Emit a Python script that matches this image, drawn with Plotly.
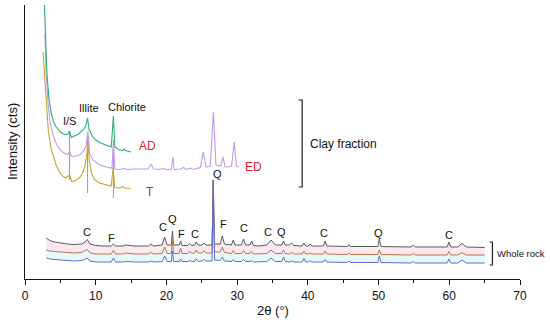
import plotly.graph_objects as go

# ---------------- Whole rock patterns (shared 2theta grid) ----------------
wr_two_theta = [3.0, 3.5, 4.2, 5.0, 6.0, 7.0, 8.0, 8.5, 8.8, 9.2, 10.0, 11.0, 12.2, 12.5, 12.8,
                13.8, 14.2, 15.5, 17.5, 17.8, 18.2, 19.4, 19.75, 20.1, 20.7, 20.85, 21.0, 21.8,
                22.0, 22.2, 23.0, 23.3, 23.6, 24.0, 24.2, 24.5, 25.0, 25.3, 25.6, 26.45, 26.62,
                26.8, 27.6, 27.9, 28.2, 29.2, 29.45, 29.7, 30.6, 30.9, 31.2, 31.8, 32.05, 32.3,
                33.0, 34.2, 34.8, 35.4, 36.3, 36.55, 36.8, 37.4, 37.7, 38.0, 39.2, 39.45, 39.7,
                40.1, 40.3, 40.6, 42.2, 42.45, 42.7, 45.6, 45.8, 46.0, 49.9, 50.1, 50.35, 54.6,
                54.9, 55.2, 59.7, 59.95, 60.2, 61.2, 61.8, 62.4, 65.0]

wr_top = [41, 38.5, 37, 36, 35, 34.5, 35, 37, 39.5, 35, 33.5, 33, 33, 35, 33,
          33, 34, 33, 33, 35, 33, 34, 42, 34, 34, 48, 34, 34,
          38, 33.5, 33.5, 35.5, 33.5, 34, 37, 34, 34, 36, 34, 34, 99,
          35, 35, 43, 35, 34, 39, 34, 34, 40, 34, 34, 38, 33.5,
          33, 34, 39, 34, 34, 38, 34, 34, 36, 33.5, 33, 36, 33,
          33, 35, 33, 33, 38, 33, 32.5, 34.5, 32.5, 32.5, 40, 32.5, 32,
          34, 32, 32, 37, 32, 32, 35.5, 32, 31.5]

wr_mid = [29, 28, 27.5, 27, 26.5, 26, 26.5, 28, 29.5, 26, 25, 25, 25, 28.5, 25,
          25, 26, 25, 25, 26.5, 25, 25.5, 32, 25.5, 25.5, 42, 25.5, 25.5,
          31, 25.5, 25.5, 27.5, 25.5, 26, 29, 26, 26, 28, 26, 26, 95,
          27, 27, 32, 26.5, 25.5, 28.5, 25.5, 25.5, 28.5, 25.5, 25.5, 27.5, 25,
          25, 25.5, 29, 25.5, 25.5, 29, 25.5, 25, 26.5, 25, 25, 28, 25,
          25, 26, 25, 25, 28, 25, 24.5, 26, 24.5, 24.5, 29, 24.5, 24,
          25.5, 24, 24, 27.5, 24, 24, 26.5, 24, 24]

wr_bot = [21, 20, 19.5, 19, 18.5, 18, 18.5, 19.5, 21, 18, 17, 17, 17, 21, 17,
          17, 17.5, 17, 17, 18, 17, 17.5, 23, 17.5, 17.5, 28, 17.5, 17.5,
          20, 17.5, 17.5, 18.5, 17.5, 17.5, 20, 17.5, 18, 19.5, 18, 18, 99,
          19, 18.5, 22, 18, 17.5, 19.5, 17.5, 17.5, 19.5, 17.5, 17.5, 18.5, 17,
          17, 17.5, 21, 17.5, 17.5, 22, 17.5, 17, 18, 17, 17, 20.5, 17,
          17, 18.5, 17, 17, 19.5, 17, 16.5, 18, 16.5, 16.5, 23, 16.5, 16,
          17.5, 16, 16, 20, 16, 16, 19, 16, 16]

# ---------------- Clay fraction patterns ----------------
ad_two_theta = [2.75, 2.9, 3.1, 3.4, 3.7, 4.0, 4.4, 5.0, 5.6, 6.0, 6.3, 6.55, 7.0, 7.6, 8.2,
                8.6, 8.85, 9.05, 9.5, 10.0, 10.7, 11.4, 12.2, 12.5, 12.7, 13.2, 13.8, 14.0,
                14.2, 15.0]
ad_int = [274, 240, 205, 180, 166, 158, 152, 147, 144.5, 144.5, 148, 141.5, 143, 145, 149,
          153, 161, 150, 143, 139, 136, 134, 132, 163, 132, 129.5, 128.5, 130,
          128.5, 127]

ed_two_theta = [2.8, 3.0, 3.3, 3.6, 4.0, 4.5, 5.0, 5.5, 6.0, 6.3, 6.6, 7.2, 7.8, 8.3, 8.65,
                8.9, 9.15, 9.6, 10.5, 11.5, 12.3, 12.5, 12.7, 13.4, 14.0, 14.4, 15.5, 16.5,
                17.4, 17.8, 18.2, 19.0, 19.5, 20.0, 20.7, 20.9, 21.1, 22.0, 22.4, 22.8, 23.4,
                23.8, 24.3, 24.8, 25.2, 25.6, 26.2, 26.65, 27.0, 27.7, 28.0, 28.3, 29.2, 29.6,
                29.9, 30.2]
ed_int = [245, 205, 172, 155, 143, 134, 129, 126, 124.5, 127.5, 122.5, 123, 124.5, 128, 134,
          148, 125, 119, 114.5, 112, 111, 139, 110, 109.5, 110.5, 109.5, 110, 110,
          110, 115, 110, 109.5, 110.5, 109.5, 110, 122, 109.5, 110, 111.5, 109.5, 111,
          109.5, 110.5, 111.5, 127, 112, 113, 167, 114, 113, 122, 112, 112.5, 137,
          113, 112]

t_two_theta = [2.55, 2.8, 3.0, 3.3, 3.7, 4.0, 4.4, 4.8, 5.3, 5.8, 6.3, 6.6, 7.2, 7.8, 8.2,
               8.5, 8.75, 8.9, 9.1, 9.4, 9.8, 10.5, 11.4, 12.2, 12.45, 12.7, 13.4, 13.8,
               14.2, 14.9]
t_int = [227, 200, 175, 148, 130, 122, 114, 108, 103, 101, 104, 97.5, 98.5, 102, 107,
         114, 125, 139, 118, 106, 99.5, 96, 94, 93, 111, 91.5, 91, 92.5,
         91, 90.5]

# reference lines at clay peaks
ref_two_theta = [6.3, 8.85, 12.5]
ref_low = [99, 86, 81]
ref_high = [147, 142, 130]

# ---------------- Labels ----------------
clay_labels = ["I/S", "Illite", "Chlorite"]
clay_label_x = [6.3, 9.1, 14.4]
clay_label_y = [158, 171, 172]

sample_labels = ["AD", "ED", "T"]
sample_label_x = [15.8, 30.8, 16.8]
sample_label_y = [133, 112, 87]
sample_label_colors = ["#e8202a", "#e8202a", "#8b4a1c"]

wr_labels = ["C", "F", "C", "Q", "F", "C", "Q", "F", "C", "C", "Q", "C", "Q", "C"]
wr_label_x = [8.8, 12.3, 19.5, 20.85, 22.1, 24.1, 27.2, 28.0, 30.9, 34.4, 36.3, 42.3, 50.0, 60.0]
wr_label_y = [47, 41, 52, 60, 45, 45, 105, 55, 51, 47, 47, 46, 46, 44]

clay_bracket_x = [38.7, 39.2]
clay_bracket_y = [92, 179]
clay_text_pos = [40.0, 135.5]
wr_bracket_x = [65.7, 66.1]
wr_bracket_y = [14, 37]
wr_text_pos = [66.5, 25.7]

FONT = "Liberation Sans, Arial, Helvetica, sans-serif"

fig = go.Figure()

# whole rock with faint bands between curves
fig.add_trace(go.Scatter(x=wr_two_theta, y=wr_top, mode="lines",
                         line=dict(color="#5a5a5a", width=1), showlegend=False))
fig.add_trace(go.Scatter(x=wr_two_theta, y=wr_mid, mode="lines",
                         line=dict(color="#c0714f", width=1), fill="tonexty",
                         fillcolor="rgba(250,215,226,0.55)", showlegend=False))
fig.add_trace(go.Scatter(x=wr_two_theta, y=wr_bot, mode="lines",
                         line=dict(color="#5b6fd6", width=1), fill="tonexty",
                         fillcolor="rgba(214,244,244,0.6)", showlegend=False))

# reference lines
rx, ry = [], []
for xv, lo, hi in zip(ref_two_theta, ref_low, ref_high):
    rx += [xv, xv, None]
    ry += [lo, hi, None]
fig.add_trace(go.Scatter(x=rx, y=ry, mode="lines", line=dict(color="#9a9a9a", width=1),
                         showlegend=False))

fig.add_trace(go.Scatter(x=t_two_theta, y=t_int, mode="lines",
                         line=dict(color="#c8a52a", width=1.1), showlegend=False))
fig.add_trace(go.Scatter(x=ed_two_theta, y=ed_int, mode="lines",
                         line=dict(color="#c39ae8", width=1.1), showlegend=False))
fig.add_trace(go.Scatter(x=ad_two_theta, y=ad_int, mode="lines",
                         line=dict(color="#2fae73", width=1.1), showlegend=False))

annotations = []
for t, xv, yv in zip(clay_labels, clay_label_x, clay_label_y):
    annotations.append(dict(x=xv, y=yv, text=t, showarrow=False, xanchor="center",
                            yanchor="middle", font=dict(size=11, color="#111", family=FONT)))
for t, xv, yv, c in zip(sample_labels, sample_label_x, sample_label_y, sample_label_colors):
    annotations.append(dict(x=xv, y=yv, text=t, showarrow=False, xanchor="left",
                            yanchor="middle", font=dict(size=12, color=c, family=FONT)))
for t, xv, yv in zip(wr_labels, wr_label_x, wr_label_y):
    annotations.append(dict(x=xv, y=yv, text=t, showarrow=False, xanchor="center",
                            yanchor="middle", font=dict(size=11, color="#111", family=FONT)))
annotations.append(dict(x=clay_text_pos[0], y=clay_text_pos[1], text="Clay fraction",
                        showarrow=False, xanchor="left", yanchor="middle",
                        font=dict(size=12, color="#111", family=FONT)))
annotations.append(dict(x=wr_text_pos[0], y=wr_text_pos[1], text="Whole rock",
                        showarrow=False, xanchor="left", yanchor="middle",
                        font=dict(size=9.5, color="#111", family=FONT)))
# axis titles placed explicitly
annotations.append(dict(xref="paper", yref="paper", x=0, y=0.5, xshift=-13,
                        text="Intensity (cts)", textangle=-90, showarrow=False,
                        xanchor="center", yanchor="middle",
                        font=dict(size=13, color="#111", family=FONT)))
annotations.append(dict(xref="paper", yref="paper", x=0.5, y=0, yshift=-31,
                        text="2θ (°)", showarrow=False,
                        xanchor="center", yanchor="middle",
                        font=dict(size=13, color="#111", family=FONT)))

shapes = []
for bx, by in [(clay_bracket_x, clay_bracket_y), (wr_bracket_x, wr_bracket_y)]:
    shapes.append(dict(type="path", xref="x", yref="y",
                       path=f"M {bx[0]},{by[1]} L {bx[1]},{by[1]} L {bx[1]},{by[0]} L {bx[0]},{by[0]}",
                       line=dict(color="#222", width=1.2)))

fig.update_layout(
    width=550, height=327,
    margin=dict(l=25, r=30, t=5, b=48, autoexpand=False),
    paper_bgcolor="white", plot_bgcolor="white",
    font=dict(family=FONT, size=12, color="#111"),
    annotations=annotations, shapes=shapes,
    xaxis=dict(range=[0, 70], tickvals=[0, 10, 20, 30, 40, 50, 60, 70],
               ticks="outside", ticklen=5, tickwidth=1.2, tickcolor="#111",
               minor=dict(tickvals=[5, 15, 25, 35, 45, 55, 65], ticks="outside",
                          ticklen=3, tickwidth=1, tickcolor="#111"),
               showline=True, linecolor="#111", linewidth=1.2, showgrid=False,
               zeroline=False, tickfont=dict(size=12, family=FONT), automargin=False),
    yaxis=dict(range=[0, 274], showticklabels=False, ticks="", showline=True,
               linecolor="#111", linewidth=1.2, showgrid=False, zeroline=False,
               automargin=False),
)

fig.write_html("out.html", config={"displayModeBar": False},
               post_script="document.body.style.margin='0px';document.body.style.padding='0px';")
